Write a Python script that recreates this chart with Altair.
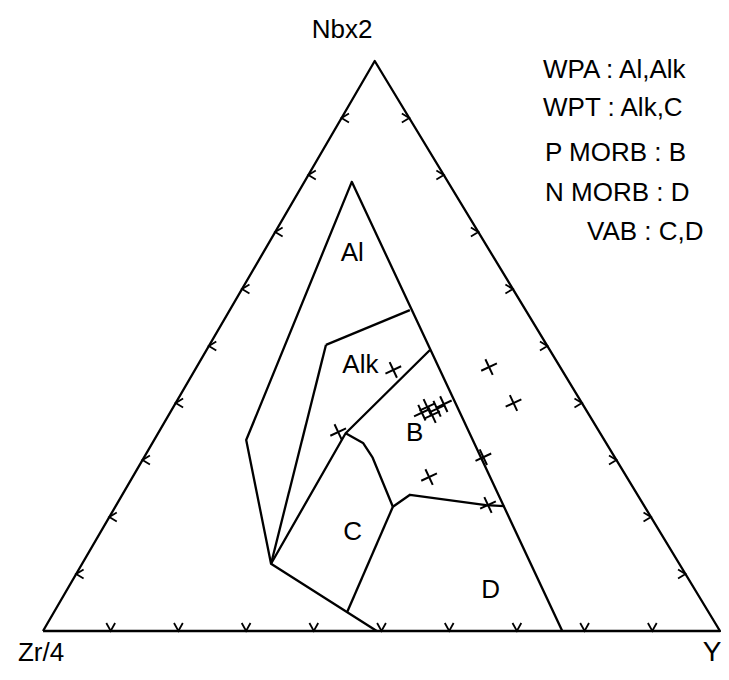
import altair as alt
import pandas as pd

# ---- ternary data, percent (Zr/4, Nb*2, Y) ----
TRIANGLE_ZR = [100, 0, 0, 100]
TRIANGLE_NB = [0, 0, 100, 0]
TRIANGLE_Y = [0, 100, 0, 0]

AI_ZR = [23.3, 14.2, 52.9, 60.3, 50.7]
AI_NB = [0.0, 78.8, 33.5, 11.8, 0.0]
AI_Y = [76.7, 7.0, 13.6, 27.9, 49.3]

AII_TOP_ZR = [32.6, 17.1]
AII_TOP_NB = [50.2, 56.3]
AII_TOP_Y = [17.2, 26.6]

AII_LEFT_ZR = [32.6, 60.3]
AII_LEFT_NB = [50.2, 11.8]
AII_LEFT_Y = [17.2, 27.9]

AII_BASE_ZR = [17.7, 37.6, 60.3]
AII_BASE_NB = [49.3, 34.7, 11.8]
AII_BASE_Y = [33.0, 27.7, 27.9]

BC_ZR = [37.6, 35.9, 35.8, 37.2]
BC_NB = [34.7, 33.0, 30.4, 21.8]
BC_Y = [27.7, 31.1, 33.8, 41.0]

BD_ZR = [37.2, 33.6, 23.3, 20.7]
BD_NB = [21.8, 23.9, 22.1, 21.9]
BD_Y = [41.0, 42.5, 54.6, 57.4]

CD_ZR = [37.2, 53.4]
CD_NB = [21.8, 3.3]
CD_Y = [41.0, 43.3]

SAMPLE_ZR = [24.9, 10.5, 10.1, 24.5, 23.2, 23.2, 21.9, 20.5, 29.2, 19.4, 23.0, 38.6]
SAMPLE_NB = [45.8, 46.3, 40.0, 38.3, 39.3, 37.9, 39.0, 39.8, 27.0, 30.5, 22.1, 34.9]
SAMPLE_Y = [29.3, 43.2, 49.9, 37.2, 37.5, 38.9, 39.1, 39.7, 43.8, 50.1, 54.9, 26.5]

FIELD_NAMES = ["Al", "Alk", "B", "C", "D"]
FIELD_ZR = [20.5, 29.3, 27.4, 45.4, 30.2]
FIELD_NB = [66.3, 46.7, 34.7, 17.4, 7.2]
FIELD_Y = [13.2, 24.0, 37.9, 37.2, 62.6]

TICK_PCT = [10, 20, 30, 40, 50, 60, 70, 80, 90]

LEGEND_LINES = ["WPA : Al,Alk", "WPT : Alk,C", "P MORB : B", "N MORB : D", "VAB : C,D"]
VERTEX_LABELS = ["Nbx2", "Zr/4", "Y"]

# ---- projection / layout ----
APEX = 0.490
XMIN, XMAX = -0.0517, 1.00148
YMIN, YMAX = -0.07193, 1.09298
W, H = 713, 664
FONT = "Liberation Sans"


def proj(zr, nb, yv):
    s = zr + nb + yv
    return (yv + APEX * nb) / s, nb / s


rows = []
segs = {
    "tri": (TRIANGLE_ZR, TRIANGLE_NB, TRIANGLE_Y),
    "ai": (AI_ZR, AI_NB, AI_Y),
    "aii_top": (AII_TOP_ZR, AII_TOP_NB, AII_TOP_Y),
    "aii_left": (AII_LEFT_ZR, AII_LEFT_NB, AII_LEFT_Y),
    "aii_base": (AII_BASE_ZR, AII_BASE_NB, AII_BASE_Y),
    "bc": (BC_ZR, BC_NB, BC_Y),
    "bd": (BD_ZR, BD_NB, BD_Y),
    "cd": (CD_ZR, CD_NB, CD_Y),
}
for name, (zs, ns, ys_) in segs.items():
    for i, (a, b, c) in enumerate(zip(zs, ns, ys_)):
        x, y = proj(a, b, c)
        rows.append({"seg": name, "ord": i, "x": x, "y": y})
lines_df = pd.DataFrame(rows)

samp = [proj(a, b, c) for a, b, c in zip(SAMPLE_ZR, SAMPLE_NB, SAMPLE_Y)]
samples_df = pd.DataFrame({"x": [p[0] for p in samp], "y": [p[1] for p in samp]})

fl = [proj(a, b, c) for a, b, c in zip(FIELD_ZR, FIELD_NB, FIELD_Y)]
fields_df = pd.DataFrame({"name": FIELD_NAMES, "x": [p[0] for p in fl], "y": [p[1] for p in fl]})

bt = [proj(100 - p, 0, p) for p in TICK_PCT]
lt = [proj(100 - p, p, 0) for p in TICK_PCT]
rt = [proj(0, p, 100 - p) for p in TICK_PCT]
bottom_df = pd.DataFrame({"x": [p[0] for p in bt], "y": [p[1] for p in bt]})
left_df = pd.DataFrame({"x": [p[0] for p in lt], "y": [p[1] for p in lt]})
right_df = pd.DataFrame({"x": [p[0] for p in rt], "y": [p[1] for p in rt]})

xs = alt.Scale(domain=[XMIN, XMAX], nice=False, zero=False)
ys = alt.Scale(domain=[YMIN, YMAX], nice=False, zero=False)
X = alt.X("x:Q", scale=xs, axis=None)
Y = alt.Y("y:Q", scale=ys, axis=None)

lines = alt.Chart(lines_df).mark_line(
    color="black", strokeWidth=2.3, strokeJoin="round", clip=False
).encode(x=X, y=Y, detail="seg:N", order="ord:Q")

cross = alt.Chart(samples_df).mark_point(
    shape="M-1,-1L1,1M-1,1L1,-1", size=150, filled=False, color="black",
    strokeWidth=2, angle=20, opacity=1
).encode(x=X, y=Y)

tick_style = dict(filled=False, color="black", strokeWidth=1.8, opacity=1)
bticks = alt.Chart(bottom_df).mark_point(
    shape="M-0.55,-1L0,0L0.55,-1", size=256, **tick_style
).encode(x=X, y=Y)
lticks = alt.Chart(left_df).mark_point(
    shape="M1,-0.6L0,0L1,0.6", size=220, **tick_style
).encode(x=X, y=Y)
rticks = alt.Chart(right_df).mark_point(
    shape="M-1,-0.6L0,0L-1,0.6", size=220, **tick_style
).encode(x=X, y=Y)

field_text = alt.Chart(fields_df).mark_text(
    font=FONT, fontSize=26, color="black", align="center", baseline="middle"
).encode(x=X, y=Y, text="name:N")

legend_df = pd.DataFrame({
    "t": LEGEND_LINES,
    "px": [535, 535, 537, 537, 579],
    "py": [62, 100, 145, 185, 224],
})
legend = alt.Chart(legend_df).mark_text(
    font=FONT, fontSize=26, color="black", align="left", baseline="middle"
).encode(x=alt.X("px:Q", scale=None), y=alt.Y("py:Q", scale=None), text="t:N")

vert_df = pd.DataFrame({
    "t": VERTEX_LABELS,
    "px": [334, 33, 704],
    "py": [22, 645, 645],
    "fs": [26, 26, 28],
})
vert = alt.Chart(vert_df).mark_text(
    font=FONT, color="black", align="center", baseline="middle"
).encode(
    x=alt.X("px:Q", scale=None), y=alt.Y("py:Q", scale=None), text="t:N",
    size=alt.Size("fs:Q", scale=None, legend=None)
)

chart = alt.layer(
    lines, bticks, lticks, rticks, cross, field_text, legend, vert
).properties(
    width=W, height=H, padding=0,
    autosize=alt.AutoSizeParams(type="none"),
    background="white",
).configure_view(stroke=None)

chart.save("out.html", embed_options={"renderer": "svg", "actions": False})
